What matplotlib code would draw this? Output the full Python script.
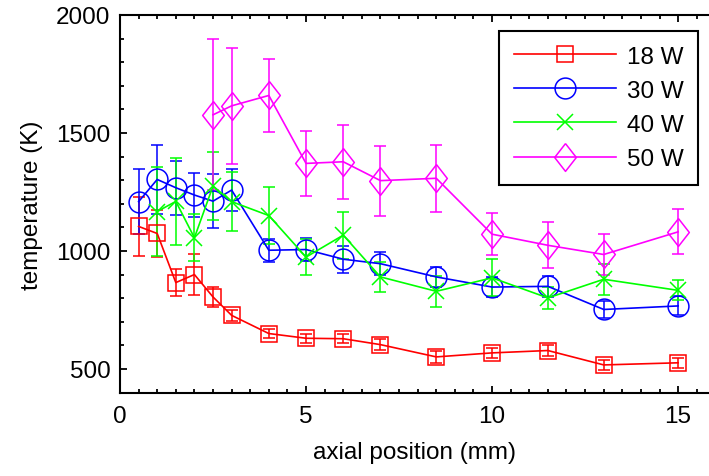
import matplotlib
matplotlib.use("Agg")
import matplotlib.pyplot as plt
from matplotlib.ticker import MultipleLocator

plt.rcParams['font.family'] = ['Liberation Sans', 'DejaVu Sans']

# data (K, mm)
x18 = [0.5, 1, 1.5, 2, 2.5, 3, 4, 5, 6, 7, 8.5, 10, 11.5, 13, 15]
t18 = [1104, 1074, 866, 900, 805, 727, 650, 630, 628, 603, 551, 568, 578, 517, 526]
e18 = [125, 100, 57, 88, 43, 22, 20, 18, 20, 22, 25, 22, 25, 22, 22]

x30 = [0.5, 1, 1.5, 2, 2.5, 3, 4, 5, 6, 7, 8.5, 10, 11.5, 13, 15]
t30 = [1209, 1303, 1268, 1237, 1211, 1258, 1003, 1006, 965, 946, 890, 847, 850, 752, 767]
e30 = [138, 145, 115, 95, 115, 90, 48, 47, 57, 50, 42, 44, 44, 38, 40]

x40 = [1, 1.5, 2, 2.5, 3, 4, 5, 6, 7, 8.5, 10, 11.5, 13, 15]
t40 = [1167, 1210, 1056, 1275, 1209, 1150, 974, 1067, 890, 829, 886, 801, 880, 833]
e40 = [190, 183, 100, 145, 125, 120, 78, 100, 65, 66, 78, 46, 65, 42]

x50 = [2.5, 3, 4, 5, 6, 7, 8.5, 10, 11.5, 13, 15]
t50 = [1577, 1615, 1659, 1371, 1378, 1298, 1308, 1071, 1024, 985, 1081]
e50 = [320, 245, 155, 138, 157, 148, 143, 90, 98, 86, 96]

labels = ['18 W', '30 W', '40 W', '50 W']

# tall diamond marker
diamond = [(0, 1), (0.78, 0), (0, -1), (-0.78, 0), (0, 1)]

fig = plt.figure(figsize=(7.09, 4.77), dpi=100)
ax = fig.add_axes([120/709, 83/477, 1 - 120/709, 378/477])

series = [
    (x18, t18, e18, '#ff0000', 's', 12.2),
    (x30, t30, e30, '#0000ff', 'o', 15),
    (x40, t40, e40, '#00ff00', 'x', 11.5),
    (x50, t50, e50, '#ff00ff', diamond, 20),
]
handles = []
for (x, t, e, c, m, ms), lab in zip(series, labels):
    cont = ax.errorbar(x, t, yerr=e, color=c, marker=m, ms=ms, mfc='none', mec=c,
                       mew=1.1, lw=1.2, elinewidth=1.1, capsize=4.3, capthick=1.1,
                       label=lab)
    handles.append(cont[0])

ax.set_xlim(0, 15.83)
ax.set_ylim(398, 2000)
ax.xaxis.set_major_locator(MultipleLocator(5))
ax.xaxis.set_minor_locator(MultipleLocator(0.5))
ax.yaxis.set_major_locator(MultipleLocator(500))
ax.yaxis.set_minor_locator(MultipleLocator(100))
ax.tick_params(which='both', direction='in', top=True, right=False, width=1.3)
ax.tick_params(which='major', length=5, labelsize=17.5)
ax.tick_params(which='minor', length=2.7)
ax.tick_params(axis='x', pad=9)
ax.tick_params(axis='y', pad=7)
ax.spines['right'].set_visible(False)
for s in ['left', 'bottom', 'top']:
    ax.spines[s].set_linewidth(1.5)

ax.set_xlabel('axial position (mm)', fontsize=17.5, labelpad=10)
ax.set_ylabel('temperature (K)', fontsize=17.5, labelpad=9)

leg = ax.legend(handles, labels, loc='upper right', bbox_to_anchor=(698/709, 1 - 32/477),
                bbox_transform=fig.transFigure, borderaxespad=0, fontsize=17.5,
                fancybox=False, framealpha=1, edgecolor='black',
                handlelength=4.2, handletextpad=0.45, labelspacing=0.5,
                borderpad=0.6)
leg.get_frame().set_linewidth(1.5)

fig.savefig('out.png', dpi=100)
